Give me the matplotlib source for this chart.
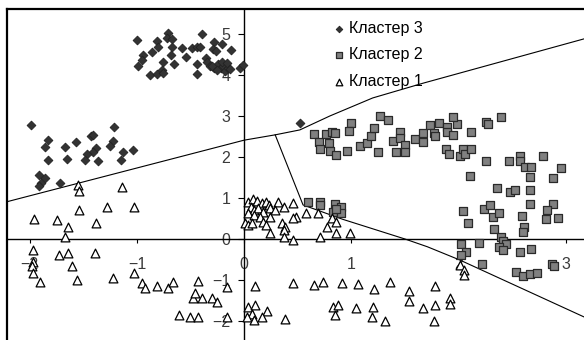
import matplotlib
matplotlib.use("Agg")
import matplotlib.pyplot as plt

plt.rcParams['font.family'] = ['Liberation Sans', 'DejaVu Sans']

# Кластер 3 (diamonds)
c3_x = [-1.00, -0.81, -0.80, -0.71, -0.72, -0.67, -0.67, -0.68, -0.94, -0.86,
        -0.95, -0.99, -0.76, -0.77, -0.88, -0.81, -0.76, -0.65, -0.58, -0.54,
        -0.49, -0.44, -0.41, -0.39, -0.28, -0.29, -0.21, -0.26, -0.12, -0.44,
        -0.44, -0.36, -0.35, -0.32, -0.28, -0.24, -0.22, -0.20, -0.18, -0.15,
        -0.21, -0.16, -0.13, -0.04, -0.01, -0.30, -0.25,
        -1.99, -1.83, -1.86, -1.67, -1.57, -1.43, -1.41, -1.21, -1.22, -1.25,
        -1.38, -1.41, -1.47, -1.48, -1.36, -1.65, -1.83, -1.13, -1.04, -1.15,
        -1.91, -1.86, -1.89, -1.91, -1.72, 0.52]
c3_y = [4.85, 4.83, 4.68, 5.02, 4.90, 4.88, 4.68, 4.49, 4.49, 4.56,
        4.37, 4.22, 4.32, 4.12, 4.00, 4.02, 4.05, 4.27, 4.66, 4.44,
        4.66, 4.68, 4.68, 5.00, 4.80, 4.63, 4.76, 4.59, 4.61, 4.27,
        4.02, 4.41, 4.32, 4.22, 4.17, 4.27, 4.17, 4.22, 4.10, 4.17,
        4.32, 4.29, 4.15, 4.17, 4.24, 4.22, 4.12,
        2.78, 2.41, 2.25, 2.25, 2.37, 2.51, 2.54, 2.72, 2.40, 2.27,
        2.21, 2.13, 2.07, 1.93, 1.90, 1.94, 1.93, 2.13, 2.17, 1.93,
        1.56, 1.48, 1.36, 1.28, 1.36, 2.84]

# Кластер 2 (squares)
c2_x = [0.65, 0.70, 0.71, 0.76, 0.79, 0.80, 0.82, 0.85, 0.86, 0.96,
        1.00, 0.98, 1.08, 1.15, 1.18, 1.21, 1.25, 1.27, 1.34, 1.39,
        1.45, 1.45, 1.50, 1.50, 1.42, 1.59, 1.67, 1.67, 1.73, 1.77,
        1.78, 1.82, 1.89, 1.89, 1.88, 1.91, 1.99, 1.95, 1.95, 2.12,
        2.26, 2.28, 2.40, 2.01, 2.04, 2.06, 2.12, 2.26, 2.47, 2.57,
        2.57, 2.62, 2.68, 2.79, 2.96, 2.11, 2.67, 2.88, 2.36, 2.48,
        2.53, 2.67, 2.67, 2.88, 2.83, 2.82, 2.93, 2.04, 2.24, 2.29,
        2.32, 2.38, 2.59, 2.09, 2.33, 2.61, 2.60, 2.40, 2.42, 2.44,
        2.38, 2.42, 2.02, 2.19, 2.57, 2.68, 2.07, 2.02, 2.22, 2.54,
        2.60, 2.67, 2.73, 2.87, 2.89,
        0.60, 0.71, 0.71, 0.85, 0.83, 0.90, 0.90, 0.86]
c2_y = [2.55, 2.37, 2.19, 2.55, 2.33, 2.15, 2.62, 2.59, 2.05, 2.15,
        2.84, 2.64, 2.27, 2.33, 2.50, 2.71, 2.11, 3.00, 2.89, 2.39,
        2.62, 2.46, 2.28, 2.11, 2.11, 2.43, 2.59, 2.36, 2.78, 2.58,
        2.51, 2.84, 2.74, 2.60, 2.19, 2.07, 2.80, 2.97, 2.54, 2.62,
        2.86, 2.80, 2.98, 2.02, 2.19, 2.07, 2.20, 1.89, 1.89, 2.02,
        1.89, 1.76, 1.76, 2.02, 1.74, 1.54, 1.52, 1.48, 1.24, 1.14,
        1.20, 1.20, 0.85, 0.85, 0.71, 0.48, 0.52, 0.68, 0.73, 0.83,
        0.54, 0.64, 0.57, 0.38, 0.24, 0.30, 0.16, 0.04, -0.04, -0.12,
        -0.20, -0.27, -0.12, -0.09, -0.31, -0.24, -0.31, -0.39, -0.62, -0.80,
        -0.90, -0.86, -0.84, -0.61, -0.65,
        0.91, 0.91, 0.83, 0.85, 0.67, 0.78, 0.63, 0.72]

# Кластер 1 (triangles)
c1_x = [-1.55, -1.54, -1.14, -1.54, -1.28, -1.03, -1.96, -1.75, -1.64, -1.38, -1.67,
        -1.97, -1.73, -1.64, -1.39, -1.97, -1.61, -1.98, -1.97, -1.90, -1.56, -1.22,
        -1.03, -0.95, -0.92, -0.81, -0.71, -0.66, -0.43, -0.48, -0.46, -0.39, -0.30,
        -0.25, -0.61, -0.50, -0.43, -0.16, -0.16,
        0.04, 0.08, 0.12, 0.17, 0.20, 0.23, 0.32, 0.37, 0.46, 0.06,
        0.09, 0.13, 0.18, 0.24, 0.29, 0.04, 0.09, 0.15, 0.24, 0.01,
        0.04, 0.07, 0.18, 0.20, 0.24, 0.35, 0.38, 0.37, 0.48, 0.46,
        0.37, 0.46, 0.58, 0.69, 0.71, 0.77, 0.82, 0.86, 0.86, 0.99,
        0.10, 0.46, 0.65, 0.74, 0.91, 1.06, 0.04, 0.10, 0.21, 0.07,
        0.03, 0.17, 0.09, 0.38, 0.83, 0.88, 0.85, 1.04,
        1.21, 1.36, 1.54, 1.54, 1.78, 1.20, 1.19, 1.31, 1.67, 1.78,
        1.77, 1.92, 1.92, 2.01, 2.05, 2.05]
c1_y = [1.32, 1.18, 1.26, 0.71, 0.77, 0.77, 0.48, 0.46, 0.30, 0.40, 0.06,
        -0.27, -0.39, -0.35, -0.35, -0.55, -0.67, -0.67, -0.82, -1.04, -1.00, -0.96,
        -0.84, -1.08, -1.20, -1.14, -1.20, -1.04, -1.02, -1.43, -1.32, -1.43, -1.45,
        -1.53, -1.85, -1.90, -1.91, -1.90, -1.16,
        0.91, 0.97, 0.93, 0.87, 0.91, 0.83, 0.91, 0.79, 0.87, 0.79,
        0.71, 0.75, 0.67, 0.75, 0.71, 0.63, 0.59, 0.54, 0.54, 0.38,
        0.34, 0.38, 0.42, 0.34, 0.14, 0.38, 0.30, 0.22, 0.54, 0.50,
        0.06, -0.02, 0.63, 0.63, 0.04, 0.30, 0.50, 0.42, 0.14, 0.14,
        -1.15, -1.08, -1.12, -1.04, -1.08, -1.11, -1.65, -1.61, -1.76, -1.84,
        -1.90, -1.90, -1.98, -1.96, -1.67, -1.61, -1.85, -1.69,
        -1.23, -1.04, -1.26, -1.51, -1.15, -1.65, -1.90, -2.00, -1.68, -1.61,
        -2.00, -1.45, -1.59, -0.63, -0.76, -0.88]

# separating lines
line_a_x = [-2.21, 0.00, 0.29, 0.52, 0.80, 1.20, 1.67, 3.17]
line_a_y = [0.91, 2.41, 2.54, 2.66, 3.00, 3.44, 3.80, 4.88]
line_b_x = [0.29, 0.55, 0.92, 1.50, 1.71, 2.01, 3.17]
line_b_y = [2.54, 0.83, 0.48, 0.00, -0.19, -0.51, -1.90]

x_ticks = [-2, -1, 0, 1, 2, 3]
y_ticks = [-2, -1, 0, 1, 2, 3, 4, 5]

fig = plt.figure(figsize=(5.84, 3.40), dpi=100)
ax = fig.add_axes([7.3 / 584, 0, 1 - 7.3 / 584, (340 - 9.3) / 340])
ax.set_xlim(-2.209, 3.171)
ax.set_ylim(-2.464, 5.602)

ax.plot(line_a_x, line_a_y, color='black', lw=0.8, zorder=2)
ax.plot(line_b_x, line_b_y, color='black', lw=0.8, zorder=2)

h3 = ax.scatter(c3_x, c3_y, marker='D', s=20, facecolor='#333333',
                edgecolor='#222222', linewidth=0.6, zorder=3, label='Кластер 3')
h2 = ax.scatter(c2_x, c2_y, marker='s', s=30, facecolor='#808080',
                edgecolor='#2a2a2a', linewidth=0.9, zorder=3, label='Кластер 2')
h1 = ax.scatter(c1_x, c1_y, marker='^', s=40, facecolor='white',
                edgecolor='black', linewidth=0.9, zorder=3, label='Кластер 1')

# axes crossing at the origin, frame on left and top
ax.spines['left'].set_position(('data', 0))
ax.spines['bottom'].set_position(('data', 0))
ax.spines['right'].set_visible(False)
for s in ['left', 'bottom']:
    ax.spines[s].set_linewidth(1.0)
ax.spines['top'].set_linewidth(1.6)
ax.plot([0, 0], [0, 1], transform=ax.transAxes, color='black', lw=1.6,
        clip_on=False, zorder=4)
ax.set_axisbelow(True)

ax.set_xticks(x_ticks)
ax.set_yticks(y_ticks)
ax.xaxis.set_ticks_position('bottom')
ax.yaxis.set_ticks_position('left')
ax.tick_params(axis='x', direction='out', length=3, width=0.8, pad=10,
               labelsize=11.5, labelcolor='#3a3a3a')
ax.tick_params(axis='y', direction='out', length=4.3, width=0.8, pad=5.5,
               labelsize=11.5, labelcolor='#3a3a3a')

ax.legend(handles=[h3, h2, h1], loc='upper left', frameon=False,
          bbox_to_anchor=(334 / 584, 1 - 21 / 340), bbox_transform=fig.transFigure,
          fontsize=11.5, markerscale=0.75, handlelength=0.6, handletextpad=0.35,
          labelspacing=0.72, borderaxespad=0, borderpad=0)

fig.savefig('out.png', dpi=100)
